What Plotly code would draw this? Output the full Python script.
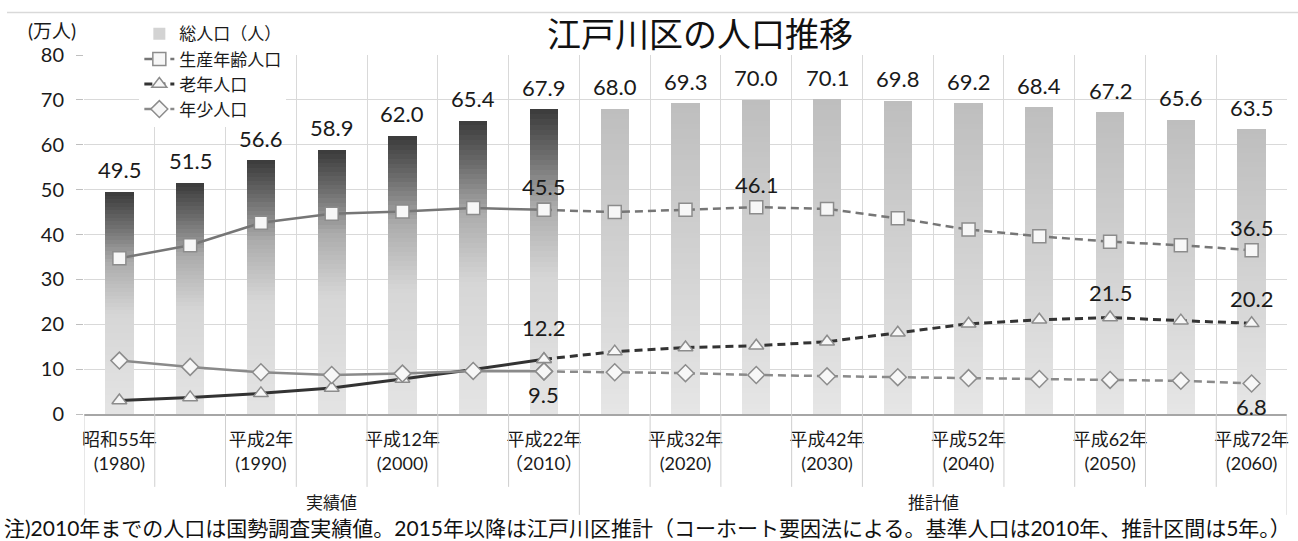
import plotly.graph_objects as go

# --- data (万人) ---
years = [1980, 1985, 1990, 1995, 2000, 2005, 2010, 2015, 2020, 2025,
         2030, 2035, 2040, 2045, 2050, 2055, 2060]
tick_labels = ["昭和55年<br>(1980)", "", "平成2年<br>(1990)", "", "平成12年<br>(2000)", "",
               "平成22年<br>（2010）", "", "平成32年<br>(2020)", "", "平成42年<br>(2030)", "",
               "平成52年<br>(2040)", "", "平成62年<br>(2050)", "", "平成72年<br>(2060)"]
total = [49.5, 51.5, 56.6, 58.9, 62.0, 65.4, 67.9, 68.0, 69.3, 70.0,
         70.1, 69.8, 69.2, 68.4, 67.2, 65.6, 63.5]
working_age = [34.7, 37.6, 42.6, 44.6, 45.1, 45.9, 45.5, 45.0, 45.5, 46.1,
               45.7, 43.6, 41.1, 39.6, 38.4, 37.6, 36.5]
elderly = [3.0, 3.7, 4.6, 5.8, 7.8, 9.9, 12.2, 13.9, 14.8, 15.2,
           16.1, 18.1, 20.1, 21.0, 21.5, 20.8, 20.2]
young = [11.9, 10.5, 9.3, 8.7, 9.0, 9.6, 9.5, 9.3, 9.1, 8.7,
         8.4, 8.2, 8.0, 7.8, 7.6, 7.4, 6.8]
n_actual = 7  # 1980-2010 are census values, the rest are projections

cats = [str(y) for y in years]
FONT = "Lato, 'Noto Sans CJK JP', sans-serif"
JP = "'Noto Sans CJK JP', sans-serif"
TXT = "#1a1a1a"


def lerp_scale(stops, f):
    for (f0, c0), (f1, c1) in zip(stops, stops[1:]):
        if f0 <= f <= f1:
            t = (f - f0) / (f1 - f0) if f1 > f0 else 0
            return "rgb(%d,%d,%d)" % tuple(round(a + (b - a) * t) for a, b in zip(c0, c1))
    return "rgb(%d,%d,%d)" % stops[-1][1]


# vertical gradients (bottom -> top) for the total-population columns
actual_stops = [(0.0, (228, 228, 228)), (0.45, (214, 214, 214)), (0.68, (172, 172, 172)),
                (0.84, (112, 112, 112)), (1.0, (58, 58, 58))]
proj_stops = [(0.0, (230, 230, 230)), (1.0, (190, 190, 190))]

fig = go.Figure()

# legend entry for the columns
fig.add_trace(go.Bar(x=cats, y=[None] * len(cats), name="総人口（人）",
                     marker=dict(color="#d3d3d3", line=dict(width=0)),
                     width=0.4, showlegend=True, hoverinfo="skip"))

N_SEG = 60
for k in range(N_SEG):
    f = (k + 0.5) / N_SEG
    colors = [lerp_scale(actual_stops if i < n_actual else proj_stops, f)
              for i in range(len(cats))]
    fig.add_trace(go.Bar(x=cats, y=[v / N_SEG for v in total],
                         marker=dict(color=colors, line=dict(width=0)),
                         width=0.4, showlegend=False, hoverinfo="skip"))

series = [
    ("生産年齢人口", working_age, "square", "#767676", 2.5),
    ("老年人口", elderly, "triangle-up", "#333333", 3),
    ("年少人口", young, "diamond", "#8a8a8a", 2.5),
]
for name, vals, sym, col, lw in series:
    mk = dict(symbol=sym, size=13, color="#f7f7f7", line=dict(color="#8c8c8c", width=1.5))
    # projected part (dashed) carries the legend entry
    fig.add_trace(go.Scatter(x=cats[n_actual - 1:], y=vals[n_actual - 1:], name=name,
                             mode="lines+markers", line=dict(color=col, width=lw, dash="8px,5px"),
                             marker=mk, hoverinfo="skip"))
    fig.add_trace(go.Scatter(x=cats[:n_actual], y=vals[:n_actual], name=name,
                             mode="lines+markers", line=dict(color=col, width=lw),
                             marker=mk, showlegend=False, hoverinfo="skip"))

LABEL_FONT = dict(family=FONT, size=22, color=TXT)
annotations = []
for i, v in enumerate(total):
    annotations.append(dict(x=i, y=v, xref="x", yref="y", text=f"{v:.1f}", yshift=22,
                            xanchor="center", yanchor="middle", showarrow=False,
                            font=LABEL_FONT))

value_labels = [
    (working_age, [6, 9, 16], 23),
    (elderly, [6], 32),
    (elderly, [14, 16], 25),
    (young, [6, 16], -23),
]
for vals, idxs, shift in value_labels:
    for i in idxs:
        annotations.append(dict(x=i, y=vals[i], xref="x", yref="y", text=f"{vals[i]:.1f}",
                                yshift=shift, xanchor="center", yanchor="middle",
                                showarrow=False, font=LABEL_FONT))

annotations += [
    dict(text="江戸川区の人口推移", xref="paper", yref="paper", x=0.512, y=1.064,
         xanchor="center", yanchor="middle",
         showarrow=False, font=dict(family=JP, size=34, color="#111111")),
    dict(text="(万人)", xref="paper", yref="paper", x=-0.027, y=1.068,
         xanchor="center", yanchor="middle",
         showarrow=False, font=dict(family=FONT, size=19, color=TXT)),
    dict(text="実績値", x=3, xref="x", yref="paper", y=-0.245,
         xanchor="center", yanchor="middle",
         showarrow=False, font=dict(family=JP, size=17, color=TXT)),
    dict(text="推計値", x=11.5, xref="x", yref="paper", y=-0.245,
         xanchor="center", yanchor="middle",
         showarrow=False, font=dict(family=JP, size=17, color=TXT)),
    dict(text="注)2010年までの人口は国勢調査実績値。2015年以降は江戸川区推計（コーホート要因法による。基準人口は2010年、推計区間は5年。）",
         xref="paper", yref="paper", x=-0.068, xanchor="left", y=-0.317, yanchor="middle",
         showarrow=False, font=dict(family=FONT, size=21, color="#111111")),
]

shapes = []
# boundary ticks below the axis
for i in range(len(cats) + 1):
    long_line = i in (0, n_actual, len(cats))
    shapes.append(dict(type="line", xref="x", yref="paper", x0=i - 0.5, x1=i - 0.5,
                       y0=0, y1=-0.281 if long_line else -0.203,
                       line=dict(color="#cfcfcf", width=1)))
# chart-area top border
shapes.append(dict(type="line", xref="paper", yref="paper", x0=-0.064, x1=1.01,
                   y0=1.1185, y1=1.1185, line=dict(color="#d9d9d9", width=1.5)))

fig.update_layout(
    width=1298, height=541, autosize=False,
    margin=dict(l=84, r=9, t=55, b=127),
    paper_bgcolor="white", plot_bgcolor="white",
    barmode="stack",
    font=dict(family=FONT, color=TXT),
    showlegend=True,
    legend=dict(x=0.046, y=1.108, xanchor="left", yanchor="top", bgcolor="white",
                font=dict(family=JP, size=17, color=TXT), tracegroupgap=0,
                itemwidth=30, traceorder="normal"),
    xaxis=dict(type="category", categoryorder="array", categoryarray=cats,
               tickson="boundaries", showgrid=True, gridcolor="#d9d9d9", gridwidth=1,
               ticks="", tickmode="array", tickvals=cats, ticktext=tick_labels,
               tickangle=0,
               tickfont=dict(family=FONT, size=18, color=TXT), ticklabelstandoff=9,
               showline=True, linecolor="#a6a6a6", linewidth=1.5,
               range=[-0.5, len(cats) - 0.5]),
    yaxis=dict(range=[0, 80], dtick=10, showgrid=True, gridcolor="#d9d9d9", gridwidth=1,
               ticks="outside", ticklen=7, tickcolor="#bfbfbf", zeroline=False,
               tickfont=dict(family=FONT, size=20, color=TXT), ticklabelstandoff=8),
    annotations=annotations,
    shapes=shapes,
)

fig.write_html("out.html")
